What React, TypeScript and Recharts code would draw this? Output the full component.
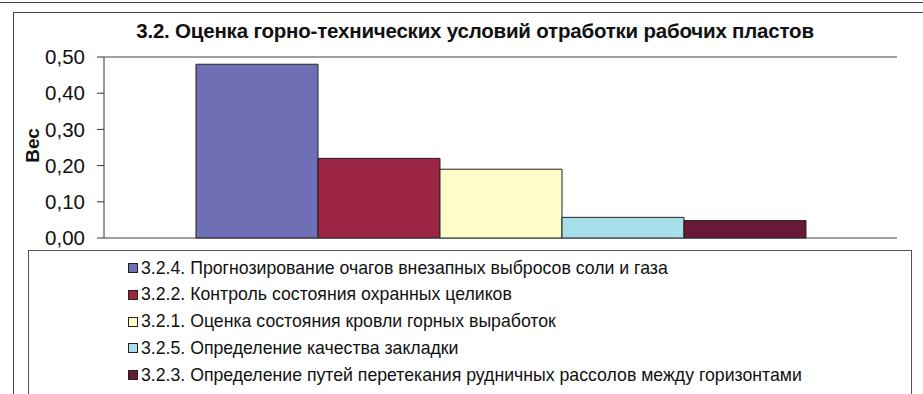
import React from 'react';
import { BarChart, Bar, XAxis, YAxis, CartesianGrid, Legend } from 'recharts';

const categories = ['3.2'];
const seriesNames = [
  '3.2.4. Прогнозирование очагов внезапных выбросов соли и газа',
  '3.2.2. Контроль состояния охранных целиков',
  '3.2.1. Оценка состояния кровли горных выработок',
  '3.2.5. Определение качества закладки',
  '3.2.3. Определение путей перетекания рудничных рассолов между горизонтами',
];
const seriesValues = [0.48, 0.22, 0.19, 0.057, 0.048];
const seriesColors = ['#6f6fb5', '#9c2444', '#fdfdc9', '#a9dfea', '#6a1838'];
const yTicks = [0, 0.1, 0.2, 0.3, 0.4, 0.5];

const data = categories.map((c) => {
  const row: any = { name: c };
  seriesValues.forEach((v, i) => { row['s' + i] = v; });
  return row;
});

const font = '"Liberation Sans", Arial, sans-serif';

const LegendBox = () => (
  <div style={{ position: 'absolute', left: 28, top: 250, width: 884, height: 160, border: '1px solid #555', background: '#fff', boxSizing: 'border-box' }}>
    {seriesNames.map((n, i) => (
      <div key={n} style={{ position: 'absolute', left: 99, top: 7 + i * 26.8, height: 20, display: 'flex', alignItems: 'center', fontFamily: font, fontSize: 17.7, color: '#111', whiteSpace: 'nowrap' }}>
        <span style={{ display: 'inline-block', width: 8, height: 8, background: seriesColors[i], border: '1px solid #222', marginRight: 3 }} />
        {n}
      </div>
    ))}
  </div>
);

const App = () => {
  return (
    <div style={{ position: 'absolute', left: 0, top: 0, width: 923, height: 394, background: '#fff', overflow: 'hidden' }}>
      <div style={{ position: 'absolute', left: -5, top: -10, width: 940, height: 12, borderBottom: '1px solid #444' }} />
      <div style={{ position: 'absolute', left: 13, top: 12, width: 930, height: 400, border: '1px solid #444' }} />
      <div style={{ position: 'absolute', left: 0, top: 19, width: 950, textAlign: 'center', fontFamily: font, fontWeight: 'bold', fontSize: 20.5, letterSpacing: -0.2, color: '#111' }}>
        3.2. Оценка горно-технических условий отработки рабочих пластов
      </div>
      <div style={{ position: 'absolute', left: 0, top: 0 }}>
        <BarChart
          width={923}
          height={394}
          data={data}
          margin={{ top: 57, right: 26, left: 0, bottom: 156 }}
          barCategoryGap="11.6%"
          barGap={0}
        >
          <CartesianGrid vertical={false} stroke="#444" strokeWidth={1} />
          <XAxis dataKey="name" height={0} tick={false} tickLine={false} axisLine={{ stroke: '#333' }} />
          <YAxis
            yAxisId="left"
            domain={[0, 0.5]}
            ticks={yTicks}
            interval={0}
            width={104}
            tickSize={7}
            tickMargin={12}
            tickFormatter={(v: number) => v.toFixed(2).replace('.', ',')}
            tick={{ fontFamily: font, fontSize: 20.5, fill: '#111' }}
            tickLine={{ stroke: '#333' }}
            axisLine={{ stroke: '#333' }}
            label={{ value: 'Вес', angle: -90, position: 'insideLeft', offset: 0, dx: 32, dy: -2, style: { fontFamily: font, fontWeight: 'bold', fontSize: 19, fill: '#111', textAnchor: 'middle' } }}
          />
          <YAxis yAxisId="right" orientation="right" width={0} tick={false} tickLine={false} axisLine={{ stroke: '#555' }} domain={[0, 0.5]} />
          {seriesNames.map((n, i) => (
            <Bar key={n} yAxisId="left" dataKey={'s' + i} name={n} fill={seriesColors[i]} stroke="#222" strokeWidth={1} isAnimationActive={false} />
          ))}
          <Legend content={() => null} />
        </BarChart>
      </div>
      <LegendBox />
    </div>
  );
};

export default App;
